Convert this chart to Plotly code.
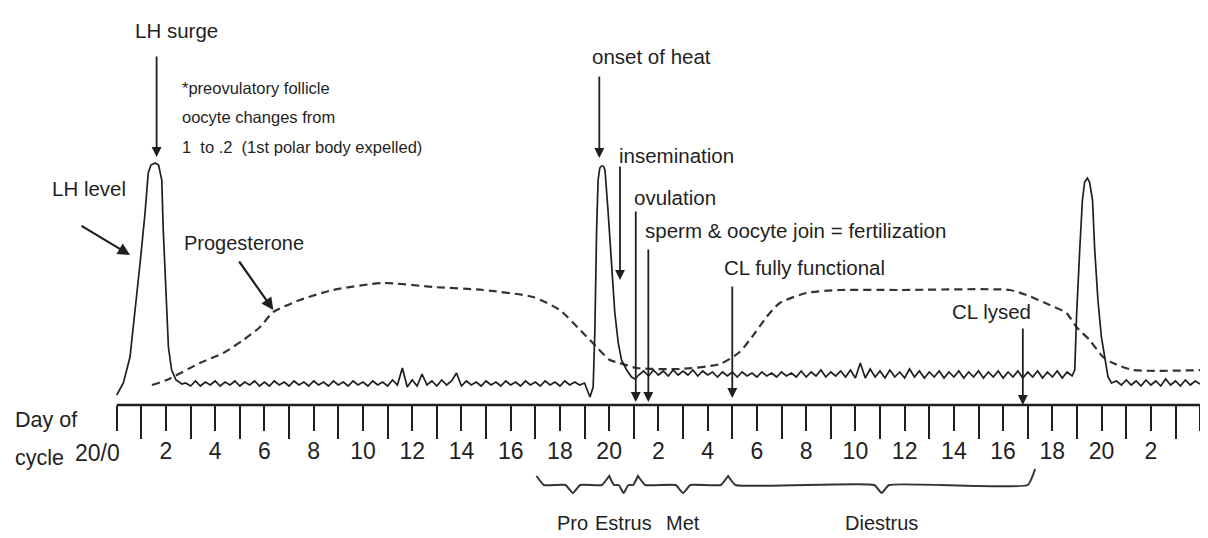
import numpy as np
import plotly.graph_objects as go

FONT = "Liberation Sans, Arial, sans-serif"
INK = "#1f1f1f"

# ---------------- data ----------------
# LH level: surge shapes (day, level) and pulsatile baseline segments
lh_peak1_days = [0.0, 0.27, 0.54, 0.74, 0.95, 1.15, 1.28, 1.39, 1.56, 1.70, 1.83, 1.89, 2.0, 2.1, 2.23, 2.41, 2.65]
lh_peak1_vals = [10, 22, 48, 92, 142, 192, 232, 240, 242, 240, 225, 175, 108, 58, 35, 25, 21]

lh_noise1_start = 2.8
lh_noise1_vals = [22, 19, 24, 19, 23, 20, 24, 19, 23, 20,
                  24, 19, 23, 20, 24, 19, 23, 19, 24, 20,
                  23, 19, 24, 20, 23, 19, 24, 20, 23, 19,
                  24, 20, 23, 19, 24, 20, 23, 19, 24, 20,
                  23, 19, 25, 20, 37, 18, 25, 19, 31, 20,
                  24, 19, 25, 20, 24, 32, 19, 24, 20, 23,
                  19, 24, 20, 23, 19, 24, 20, 23, 19, 24,
                  20, 23, 19, 24, 20, 23, 19, 24, 20, 23,
                  20, 22]

lh_peak2_days = [19.22, 19.35, 19.42, 19.49, 19.55, 19.62, 19.69, 19.76, 19.83, 19.96, 20.10, 20.23, 20.37, 20.5, 20.71, 20.91, 21.05]
lh_peak2_vals = [8, 18, 75, 175, 225, 237, 239, 239, 235, 192, 142, 92, 62, 45, 35, 28, 26]

lh_noise2_start = 21.2
lh_noise2_vals = [30, 34, 29, 35, 30, 34, 29, 35, 30, 34,
                  30, 35, 29, 34, 30, 33, 28, 33, 29, 33,
                  28, 33, 29, 32, 28, 33, 29, 32, 28, 33,
                  29, 32, 28, 34, 28, 33, 29, 35, 28, 33,
                  29, 34, 28, 35, 27, 42, 27, 36, 28, 34,
                  27, 35, 28, 33, 27, 36, 28, 34, 27, 33,
                  28, 34, 27, 33, 28, 34, 27, 33, 28, 34,
                  27, 33, 28, 34, 27, 33, 28, 34, 27, 33,
                  28, 34, 27, 33, 28, 34, 27, 33, 29]

lh_peak3_days = [38.91, 38.98, 39.11, 39.22, 39.31, 39.42, 39.51, 39.63, 39.72, 39.85, 39.99, 40.12, 40.26, 40.4]
lh_peak3_vals = [35, 88, 155, 205, 223, 227, 223, 205, 155, 105, 68, 48, 28, 22]

lh_noise3_start = 40.6
lh_noise3_vals = [24, 20, 25, 20, 24, 19, 25, 20, 24, 19, 26, 20, 24, 19, 25, 20, 24, 21]

NOISE_STEP = 0.2

# Progesterone (dashed)
prog_days = [1.43, 2.03, 3.38, 4.33, 5.14, 5.82, 6.36, 7.44, 8.78, 10.82, 12.85, 14.88, 16.91, 17.99,
             18.94, 19.49, 20.03, 20.43, 21.11, 22.87, 24.5, 25.3, 25.92, 26.39, 26.93, 28.01, 29.37,
             31.8, 36.27, 36.95, 37.89, 38.57, 38.98, 39.51, 40.06, 40.46, 41.28, 44.2]
prog_vals = [20, 25, 42, 52, 65, 78, 93, 105, 115, 122, 118, 115, 108, 95,
             72, 58, 45, 42, 37, 36, 41, 53, 72, 88, 102, 112, 115,
             115, 115, 110, 100, 92, 78, 65, 48, 42, 35, 35]

# axis
tick_days = list(range(0, 45, 2))
tick_labels = ["20/0", "2", "4", "6", "8", "10", "12", "14", "16", "18", "20",
               "2", "4", "6", "8", "10", "12", "14", "16", "18", "20", "2", ""]
minor_days = list(range(1, 45, 2))

# events (arrow day)
event_text = ["LH surge", "onset of heat", "insemination", "ovulation",
              "sperm & oocyte join = fertilization", "CL fully functional", "CL lysed"]
event_day = [1.62, 19.6, 20.44, 21.08, 21.59, 25.0, 36.8]

# phases
phase_names = ["Pro", "Estrus", "Met", "Diestrus"]
phase_start = [17.05, 20.0, 21.17, 24.83]
phase_end = [20.0, 21.17, 24.83, 37.3]

note_lines = ["*preovulatory follicle", "oocyte changes from",
              "1\u00a0 to .2\u00a0 (1st polar body expelled)"]

# ---------------- build ----------------
def seg(start, vals):
    return [round(start + NOISE_STEP * i, 3) for i in range(len(vals))]

lh_x = (lh_peak1_days + seg(lh_noise1_start, lh_noise1_vals) + lh_peak2_days
        + seg(lh_noise2_start, lh_noise2_vals) + lh_peak3_days + seg(lh_noise3_start, lh_noise3_vals))
lh_y = (lh_peak1_vals + lh_noise1_vals + lh_peak2_vals + lh_noise2_vals + lh_peak3_vals + lh_noise3_vals)

fig = go.Figure()

fig.add_trace(go.Scatter(x=prog_days, y=prog_vals, mode="lines",
                         line=dict(color="#333333", width=2.2, dash="8px,5px", shape="spline", smoothing=0.6),
                         hoverinfo="skip"))
fig.add_trace(go.Scatter(x=lh_x, y=lh_y, mode="lines",
                         line=dict(color=INK, width=1.7), hoverinfo="skip"))

# axis line
fig.add_trace(go.Scatter(x=[tick_days[0], tick_days[-1]], y=[0, 0], mode="lines",
                         line=dict(color=INK, width=2.5), hoverinfo="skip"))

# braces
bx, by = [], []
BR_Y, BR_UP, BR_DN = -80, -71, -88
for i, (s, e) in enumerate(zip(phase_start, phase_end)):
    m = (s + e) / 2
    w = min(0.3, (e - s) / 6)
    pts = [(s, BR_UP), (s + w, BR_Y), (m - w, BR_Y), (m, BR_DN), (m + w, BR_Y), (e - w, BR_Y)]
    if i == len(phase_start) - 1:
        pts.append((e, -64))
    else:
        pts.append((e, BR_UP))
    for px, py in pts:
        bx.append(px)
        by.append(py)
fig.add_trace(go.Scatter(x=bx, y=by, mode="lines", line=dict(color="#333333", width=2, shape="spline", smoothing=0.4),
                         hoverinfo="skip"))

ann = []
def text(x, y, t, size=20.5, xanchor="left"):
    ann.append(dict(x=x, y=y, xref="x", yref="y", text=t, showarrow=False, xanchor=xanchor,
                    yanchor="middle", font=dict(family=FONT, size=size, color=INK)))

def arrow(x, y, ax, ay, w=1.8):
    ann.append(dict(x=x, y=y, ax=ax, ay=ay, xref="x", yref="y", axref="x", ayref="y", text="",
                    showarrow=True, arrowhead=2, arrowsize=1.1, arrowwidth=w, arrowcolor=INK, standoff=0))

# event labels + arrows (positions: text x, text y, anchor, arrow tail level, tip level)
event_layout = [
    (2.41, 375, "center", 350, 248),
    (21.7, 349, "center", 330, 247),
    (20.31, 250, "left", 240, 125),
    (20.92, 208, "left", 195, 3),
    (21.39, 175, "left", 157, 3),
    (24.57, 138, "left", 120, 7),
    (33.85, 94, "left", 78, 0),
]
for t, d, (tx, ty, xa, tail, tip) in zip(event_text, event_day, event_layout):
    text(tx, ty, t, 20.5, xa)
    arrow(d, tip, d, tail)

text(-2.71, 217, "LH level", 20.5)
arrow(0.54, 150, -1.49, 180, 2.2)
text(2.64, 162, "Progesterone", 20)
arrow(6.36, 95, 4.93, 145, 2.2)

for t, y in zip(note_lines, [317, 288, 258]):
    text(2.57, y, t, 16.5)

text(-4.21, -15, "Day of", 21.5)
text(-4.21, -53, "cycle", 21.5)
text(0.22, -48, tick_labels[0], 23, "right")

for n, s, e in zip(phase_names, phase_start, phase_end):
    text((s + e) / 2, -118, n, 20, "center")

# the page body adds an 8px offset; ranges are shifted so that the figure
# lands on the reference pixel grid
fig.update_layout(
    width=1208, height=538,
    margin=dict(l=0, r=0, t=0, b=0),
    paper_bgcolor="white", plot_bgcolor="white",
    showlegend=False,
    template="none",
    annotations=ann,
    xaxis=dict(range=[-4.415, 44.645], anchor="free", position=141 / 538, showline=False,
               showgrid=False, zeroline=False,
               tickmode="array", tickvals=tick_days, ticktext=[""] + tick_labels[1:],
               ticks="outside", ticklen=25, tickwidth=2, tickcolor=INK,
               tickfont=dict(family=FONT, size=23, color=INK),
               minor=dict(tickmode="array", tickvals=minor_days, ticks="outside", ticklen=33,
                          tickwidth=2, tickcolor=INK, showgrid=False),
               automargin=False, fixedrange=True),
    yaxis=dict(range=[-141, 397], visible=False, fixedrange=True),
)

fig.write_html("out.html")
